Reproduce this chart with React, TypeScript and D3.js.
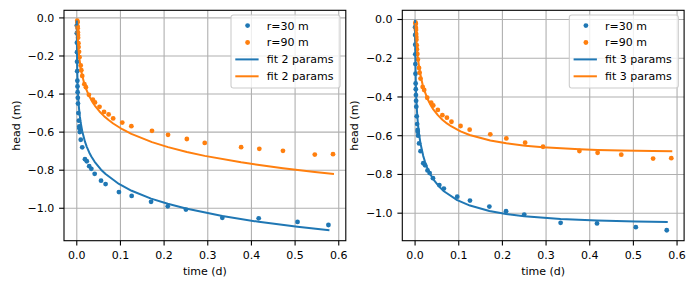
import React, { useEffect, useRef } from 'react';
import * as d3 from 'd3';

// pumping test, observed heads at two piezometers (time in minutes, head in m)
const time30 = [0.1, 0.25, 0.5, 0.7, 1.0, 1.4, 1.9, 2.33, 2.8, 3.36, 4.0, 5.35, 6.8, 8.3, 8.7, 10, 13.1, 18, 27, 33, 41, 48, 59, 80, 95, 139, 181, 245, 300, 360, 480, 600, 728, 830];
const head30 = [-0.04, -0.08, -0.13, -0.18, -0.23, -0.28, -0.33, -0.36, -0.39, -0.42, -0.45, -0.5, -0.54, -0.57, -0.58, -0.6, -0.64, -0.68, -0.742, -0.753, -0.779, -0.793, -0.819, -0.855, -0.873, -0.915, -0.935, -0.966, -0.99, -1.007, -1.05, -1.053, -1.072, -1.088];

const time90 = [1.5, 2.0, 2.16, 2.66, 3.0, 3.5, 4.0, 4.33, 5.5, 6.0, 7.5, 9, 13, 15, 18, 25, 30, 40, 53, 60, 75, 90, 105, 120, 150, 180, 248, 301, 363, 422, 542, 602, 680, 785, 845];
const head90 = [-0.015, -0.021, -0.023, -0.044, -0.054, -0.075, -0.09, -0.104, -0.133, -0.153, -0.178, -0.206, -0.25, -0.275, -0.305, -0.348, -0.364, -0.404, -0.429, -0.444, -0.467, -0.494, -0.507, -0.528, -0.55, -0.569, -0.593, -0.614, -0.636, -0.657, -0.679, -0.688, -0.698, -0.718, -0.716];

// model heads at the same times, two-parameter fit
const fit2Head30 = [-0.019, -0.0742, -0.1395, -0.1763, -0.2179, -0.259, -0.2973, -0.3236, -0.3473, -0.371, -0.3939, -0.4325, -0.4645, -0.4912, -0.4974, -0.516, -0.5523, -0.5952, -0.65, -0.6771, -0.7066, -0.7278, -0.7559, -0.7973, -0.8203, -0.8723, -0.9082, -0.9494, -0.9767, -1.0015, -1.0406, -1.0713, -1.0973, -1.1154];
const fit2Head90 = [-0.0448, -0.0648, -0.071, -0.0884, -0.0994, -0.114, -0.1273, -0.1355, -0.1611, -0.1709, -0.1964, -0.2179, -0.2629, -0.2808, -0.3039, -0.3462, -0.37, -0.4078, -0.4451, -0.4617, -0.4915, -0.516, -0.5367, -0.5547, -0.5848, -0.6094, -0.6527, -0.6789, -0.7043, -0.7247, -0.7587, -0.7729, -0.7895, -0.8089, -0.819];

// three-parameter fit
const fit3Head30 = [-0.0066, -0.0467, -0.1096, -0.1488, -0.1951, -0.2421, -0.287, -0.3178, -0.3461, -0.3744, -0.4018, -0.448, -0.4863, -0.5182, -0.5257, -0.548, -0.5912, -0.6417, -0.7052, -0.7359, -0.7692, -0.7927, -0.8223, -0.8642, -0.8866, -0.9326, -0.9606, -0.9883, -1.0038, -1.0158, -1.0303, -1.0383, -1.0431, -1.0454];
const fit3Head90 = [-0.0229, -0.0387, -0.0437, -0.0593, -0.0693, -0.0834, -0.0967, -0.1049, -0.1316, -0.1419, -0.1695, -0.1931, -0.2434, -0.2635, -0.2896, -0.337, -0.3635, -0.4063, -0.447, -0.464, -0.4939, -0.5174, -0.5365, -0.5524, -0.5774, -0.5961, -0.6249, -0.6394, -0.6514, -0.6595, -0.6699, -0.6732, -0.6764, -0.6792, -0.6804];

const xTicks = [0, 0.1, 0.2, 0.3, 0.4, 0.5, 0.6];
const yTicks = [0, -0.2, -0.4, -0.6, -0.8, -1.0];
const obsLabels = ['r=30 m', 'r=90 m'];
const fitLabels = ['fit 2 params', 'fit 3 params'];

const C0 = '#1f77b4';
const C1 = '#ff7f0e';
const FONT = 'DejaVu Sans, sans-serif';

const W = 695, H = 289;
const top = 10.3, bottom = 240.7;
const panelLeft = [64, 402.3];
const panelWidth = 281.8;

const toDays = (m: number) => m / 1440;

// matplotlib-style limits: data extent padded by 5% on each side
const padded = (vals: number[]) => {
	const [lo, hi] = d3.extent(vals) as [number, number];
	const m = (hi - lo) * 0.05;
	return [lo - m, hi + m];
};

const drawPanel = (svg: any, k: number, fit30: number[], fit90: number[], label: string) => {
	const x0 = panelLeft[k], x1 = x0 + panelWidth;

	const allT = time30.concat(time90).map(toDays);
	const allH = head30.concat(head90, fit30, fit90);

	const x = d3.scaleLinear().domain(padded(allT)).range([x0, x1]);
	const y = d3.scaleLinear().domain(padded(allH)).range([bottom, top]);

	const g = svg.append('g');

	// grid
	g.selectAll('.gx').data(xTicks).enter().append('line')
		.attr('x1', (d: number) => x(d)).attr('x2', (d: number) => x(d))
		.attr('y1', top).attr('y2', bottom)
		.attr('stroke', '#b0b0b0').attr('stroke-width', 1.1);
	g.selectAll('.gy').data(yTicks).enter().append('line')
		.attr('x1', x0).attr('x2', x1)
		.attr('y1', (d: number) => y(d)).attr('y2', (d: number) => y(d))
		.attr('stroke', '#b0b0b0').attr('stroke-width', 1.1);

	// observations
	const obs = [
		{ t: time30, h: head30, c: C0 },
		{ t: time90, h: head90, c: C1 },
	];
	obs.forEach((s) => {
		g.append('g').selectAll('circle').data(s.t).enter().append('circle')
			.attr('cx', (d: number) => x(toDays(d)))
			.attr('cy', (_: number, i: number) => y(s.h[i]))
			.attr('r', 2.4)
			.attr('fill', s.c);
	});

	// fitted curves
	const fits = [
		{ t: time30, h: fit30, c: C0 },
		{ t: time90, h: fit90, c: C1 },
	];
	fits.forEach((s) => {
		const line = d3.line<number>()
			.x((d) => x(toDays(d)))
			.y((_, i) => y(s.h[i]));
		g.append('path')
			.attr('d', line(s.t))
			.attr('fill', 'none')
			.attr('stroke', s.c)
			.attr('stroke-width', 2)
			.attr('stroke-linejoin', 'round')
			.attr('stroke-linecap', 'square');
	});

	// spines
	g.append('rect')
		.attr('x', x0).attr('y', top)
		.attr('width', panelWidth).attr('height', bottom - top)
		.attr('fill', 'none').attr('stroke', '#000').attr('stroke-width', 1.1);

	const fmt = d3.format('.1f');

	// x ticks
	xTicks.forEach((d) => {
		g.append('line')
			.attr('x1', x(d)).attr('x2', x(d))
			.attr('y1', bottom).attr('y2', bottom + 4.9)
			.attr('stroke', '#000').attr('stroke-width', 1.1);
		g.append('text')
			.attr('x', x(d)).attr('y', bottom + 18.3)
			.attr('text-anchor', 'middle')
			.attr('font-family', FONT).attr('font-size', 11)
			.text(fmt(d));
	});

	// y ticks
	yTicks.forEach((d) => {
		g.append('line')
			.attr('x1', x0 - 4.9).attr('x2', x0)
			.attr('y1', y(d)).attr('y2', y(d))
			.attr('stroke', '#000').attr('stroke-width', 1.1);
		g.append('text')
			.attr('x', x0 - 9.7).attr('y', y(d))
			.attr('dy', '0.36em')
			.attr('text-anchor', 'end')
			.attr('font-family', FONT).attr('font-size', 11)
			.text(fmt(d));
	});

	// axis labels
	g.append('text')
		.attr('x', (x0 + x1) / 2).attr('y', 275)
		.attr('text-anchor', 'middle')
		.attr('font-family', FONT).attr('font-size', 11)
		.text('time (d)');
	g.append('text')
		.attr('transform', `translate(${x0 - 44.5},${(top + bottom) / 2}) rotate(-90)`)
		.attr('text-anchor', 'middle')
		.attr('font-family', FONT).attr('font-size', 11)
		.text('head (m)');

	// legend
	const lx = x1 - 114.8, ly = top + 4.7;
	const lg = g.append('g').attr('transform', `translate(${lx},${ly})`);
	lg.append('rect')
		.attr('x', 0).attr('y', 0).attr('width', 109).attr('height', 73)
		.attr('rx', 2.5)
		.attr('fill', 'white').attr('fill-opacity', 0.8)
		.attr('stroke', '#cccccc').attr('stroke-width', 1.1);
	const entries = [
		{ kind: 'dot', c: C0, text: obsLabels[0] },
		{ kind: 'dot', c: C1, text: obsLabels[1] },
		{ kind: 'line', c: C0, text: label },
		{ kind: 'line', c: C1, text: label },
	];
	entries.forEach((e, i) => {
		const ry = 10.6 + i * 16.9;
		if (e.kind === 'dot') {
			lg.append('circle').attr('cx', 16.6).attr('cy', ry).attr('r', 2.4).attr('fill', e.c);
		} else {
			lg.append('line')
				.attr('x1', 4.3).attr('x2', 27.6).attr('y1', ry).attr('y2', ry)
				.attr('stroke', e.c).attr('stroke-width', 2);
		}
		lg.append('text')
			.attr('x', 35.8).attr('y', ry).attr('dy', '0.36em')
			.attr('font-family', FONT).attr('font-size', 11)
			.text(e.text);
	});
};

const App = () => {
	const ref = useRef<SVGSVGElement>(null);

	useEffect(() => {
		const svg = d3.select(ref.current);
		svg.selectAll('*').remove();
		drawPanel(svg, 0, fit2Head30, fit2Head90, fitLabels[0]);
		drawPanel(svg, 1, fit3Head30, fit3Head90, fitLabels[1]);
	}, []);

	return (
		<svg
			ref={ref}
			width={W}
			height={H}
			style={{ position: 'absolute', left: 0, top: 0, background: 'white' }}
		/>
	);
};

export default App;
